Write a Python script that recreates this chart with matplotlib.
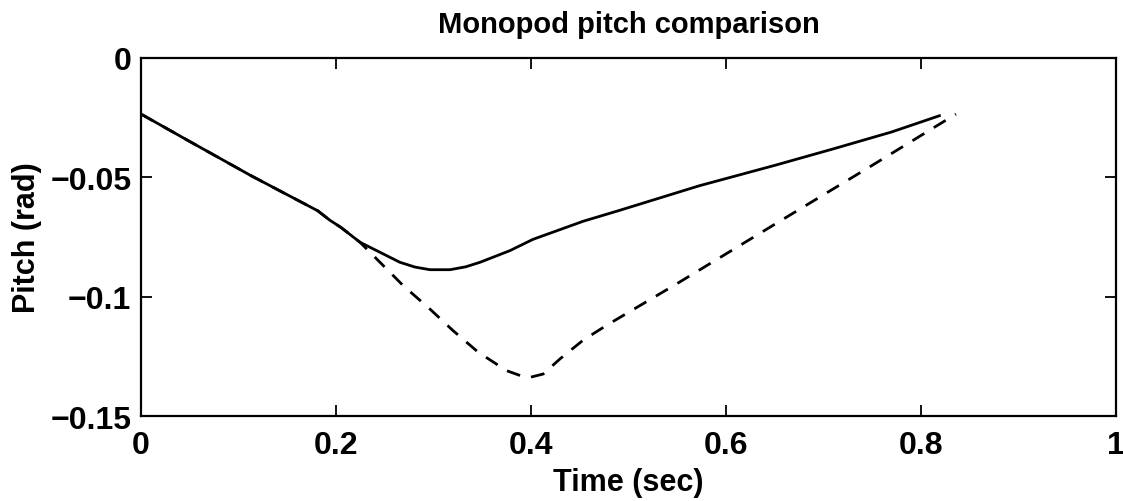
import numpy as np
import matplotlib
matplotlib.use('Agg')
import matplotlib.pyplot as plt

# pitch response of the monopod (solid) and the comparison run (dashed)
t_actual = [0.0, 0.05, 0.1128, 0.1812, 0.1938, 0.2051, 0.2246, 0.2451, 0.2656,
            0.281, 0.2964, 0.317, 0.333, 0.3477, 0.3785, 0.402, 0.4536, 0.488,
            0.573, 0.65, 0.71, 0.77, 0.819]
pitch_actual = [-0.0235, -0.0350, -0.0493, -0.0640, -0.0680, -0.0710, -0.0772,
                -0.0814, -0.0856, -0.0876, -0.0887, -0.0887, -0.0875, -0.0856,
                -0.0807, -0.0760, -0.0684, -0.0642, -0.0535, -0.0450, -0.0381,
                -0.0310, -0.0242]

t_compare = [0.0, 0.05, 0.1128, 0.1812, 0.1938, 0.2051, 0.2246, 0.2417, 0.269,
             0.2964, 0.3203, 0.346, 0.375, 0.390, 0.399, 0.4126, 0.4297, 0.4536,
             0.4776, 0.55, 0.65, 0.75, 0.836]
pitch_compare = [-0.0235, -0.0350, -0.0493, -0.0640, -0.0680, -0.0710, -0.0772,
                 -0.0842, -0.0954, -0.1052, -0.1143, -0.1233, -0.1310, -0.1332,
                 -0.1338, -0.1324, -0.1261, -0.1182, -0.1120, -0.0945, -0.0697,
                 -0.0450, -0.0235]

x_ticks = [0, 0.2, 0.4, 0.6, 0.8, 1]
x_labels = ['0', '0.2', '0.4', '0.6', '0.8', '1']
y_ticks = [0, -0.05, -0.1, -0.15]
y_labels = ['0', '\u22120.05', '\u22120.1', '\u22120.15']

plt.rcParams['font.family'] = ['Liberation Sans', 'DejaVu Sans']
plt.rcParams['font.weight'] = 'bold'

fig = plt.figure(figsize=(11.23, 5.02), dpi=100)
ax = fig.add_axes([0.1256, 0.1693, 0.868, 0.7132])

ax.plot(t_actual, pitch_actual, color='black', linewidth=2.0, linestyle='-',
        solid_joinstyle='round')
ax.plot(t_compare, pitch_compare, color='black', linewidth=2.0,
        linestyle=(0, (5, 4)), dash_joinstyle='round')

ax.set_xlim(0, 1)
ax.set_ylim(-0.15, 0)
ax.set_xticks(x_ticks)
ax.set_xticklabels(x_labels)
ax.set_yticks(y_ticks)
ax.set_yticklabels(y_labels)
ax.tick_params(direction='in', top=True, right=True, length=8, width=1.3,
               labelsize=23)
ax.tick_params(axis='x', pad=10)
ax.tick_params(axis='y', pad=7)

for side in ax.spines.values():
    side.set_linewidth(1.6)

ax.set_title('Monopod pitch comparison', fontsize=21, fontweight='bold', pad=19)
ax.set_xlabel('Time (sec)', fontsize=22, fontweight='bold', labelpad=5)
ax.set_ylabel('Pitch (rad)', fontsize=22, fontweight='bold', labelpad=6)

fig.savefig('out.png', dpi=100)
